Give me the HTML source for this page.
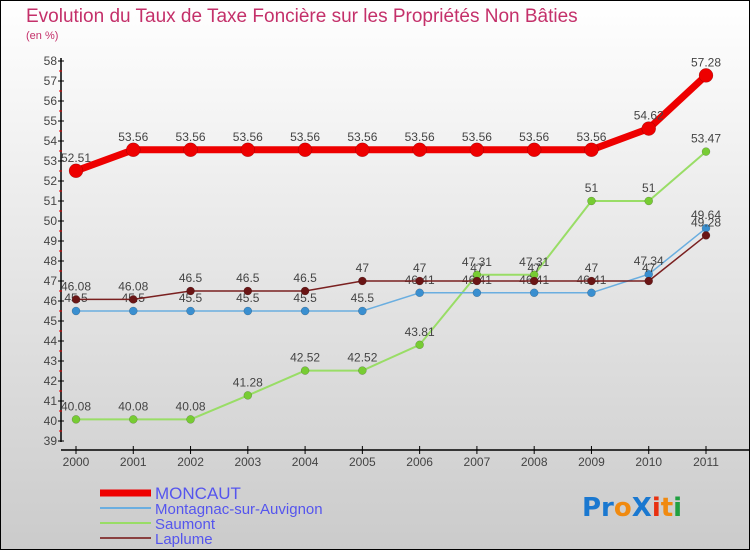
<!DOCTYPE html>
<html><head><meta charset="utf-8"><style>
html,body{margin:0;padding:0}
body{width:750px;height:550px;overflow:hidden;font-family:"Liberation Sans",sans-serif}
</style></head><body>
<svg id="chart" width="750" height="550" xmlns="http://www.w3.org/2000/svg">
<defs><linearGradient id="bg" x1="0" y1="0" x2="0" y2="1"><stop offset="0" stop-color="#ffffff"/><stop offset="1" stop-color="#cbcbcb"/></linearGradient></defs>
<rect x="0.5" y="0.5" width="749" height="549" fill="url(#bg)" stroke="#000"/>
<text x="26" y="22" font-size="19" fill="#c4306a">Evolution du Taux de Taxe Foncière sur les Propriétés Non Bâties</text>
<text x="26" y="39" font-size="11" fill="#c4306a">(en %)</text>
<g id="axes"></g><g id="series"></g><g id="legend"></g>
<g font-size="26" font-weight="bold" font-family="DejaVu Sans, sans-serif">
<text x="582" y="516"><tspan fill="#1a78d0">Pr</tspan><tspan fill="#f08a10">o</tspan><tspan fill="#1a78d0">X</tspan><tspan fill="#e83010">i</tspan><tspan fill="#f08a10">t</tspan><tspan fill="#20a040">i</tspan></text>
</g>
</svg>
<script>
const years=[2000,2001,2002,2003,2004,2005,2006,2007,2008,2009,2010,2011];
const yTicks=[39,40,41,42,43,44,45,46,47,48,49,50,51,52,53,54,55,56,57,58];
const moncaut=[52.51,53.56,53.56,53.56,53.56,53.56,53.56,53.56,53.56,53.56,54.62,57.28];
const montagnac=[45.5,45.5,45.5,45.5,45.5,45.5,46.41,46.41,46.41,46.41,47.34,49.64];
const saumont=[40.08,40.08,40.08,41.28,42.52,42.52,43.81,47.31,47.31,51,51,53.47];
const laplume=[46.08,46.08,46.5,46.5,46.5,47,47,47,47,47,47,49.28];
const NS="http://www.w3.org/2000/svg";
function X(i){return 76+i*(630/11);}
function Y(v){return 61+(58-v)*20;}
function mk(tag,attrs,parent){const e=document.createElementNS(NS,tag);for(const k in attrs)e.setAttribute(k,attrs[k]);parent.appendChild(e);return e;}
const axes=document.getElementById('axes');
let a=mk('line',{x1:61,y1:58,x2:61,y2:442,stroke:'#000','stroke-width':1.5},axes);


a=mk('line',{x1:61,y1:450,x2:750,y2:450,stroke:'#000','stroke-width':1.5},axes);


yTicks.forEach(v=>{
 mk('line',{x1:58,y1:Y(v),x2:64,y2:Y(v),stroke:'#000'},axes);
 if(v<58) mk('line',{x1:59,y1:Y(v)-10,x2:62,y2:Y(v)-10,stroke:'#e00'},axes);
 const t=mk('text',{x:57,y:Y(v)+4,'font-size':12,fill:'#444','text-anchor':'end'},axes);
 t.textContent=v;
 
 
});
years.forEach((y,i)=>{
 mk('line',{x1:X(i),y1:446,x2:X(i),y2:454,stroke:'#000'},axes);
 const t=mk('text',{x:X(i),y:466,'font-size':12,fill:'#444','text-anchor':'middle'},axes);
 t.textContent=y;
 
 
});
const ser=document.getElementById('series');
function draw(vals,color,dot,w,r,name){
 const g=mk('g',{},ser);
 
 
 const pl=mk('polyline',{points:vals.map((v,i)=>X(i)+','+Y(v)).join(' '),fill:'none',stroke:color,'stroke-width':w,'stroke-linejoin':'round'},g);
 
 
 vals.forEach((v,i)=>{
  const c=mk('circle',{cx:X(i),cy:Y(v),r:r,fill:dot,stroke:'rgba(0,0,0,0.3)','stroke-width':0.5},g);
  
  
  const t=mk('text',{x:X(i),y:Y(v)-9,'font-size':12,fill:'#444','text-anchor':'middle'},g);
  t.textContent=v;
  
  
 });
}
draw(saumont,'#99dd66','#77cc33',2,4,'saumont');
draw(montagnac,'#6aaee0','#3a8fd0',1.5,4,'montagnac');
draw(laplume,'#7a2020','#6a1515',1.5,4,'laplume');
draw(moncaut,'#ee0000','#ee0000',7,7,'moncaut');
const leg=document.getElementById('legend');
const items=[['MONCAUT','#ee0000',7],['Montagnac-sur-Auvignon','#6aaee0',2],['Saumont','#99dd66',2],['Laplume','#8a4040',2]];
items.forEach((it,k)=>{
 const y=493+k*15;
 const l=mk('line',{x1:100,y1:y,x2:151,y2:y,stroke:it[1],'stroke-width':it[2]},leg);
 
 
 const t=mk('text',{x:155,y:y+6,'font-size':k==0?17:15,fill:'#5555ee'},leg);
 t.textContent=it[0];
 
 
});
</script>
</body></html>
